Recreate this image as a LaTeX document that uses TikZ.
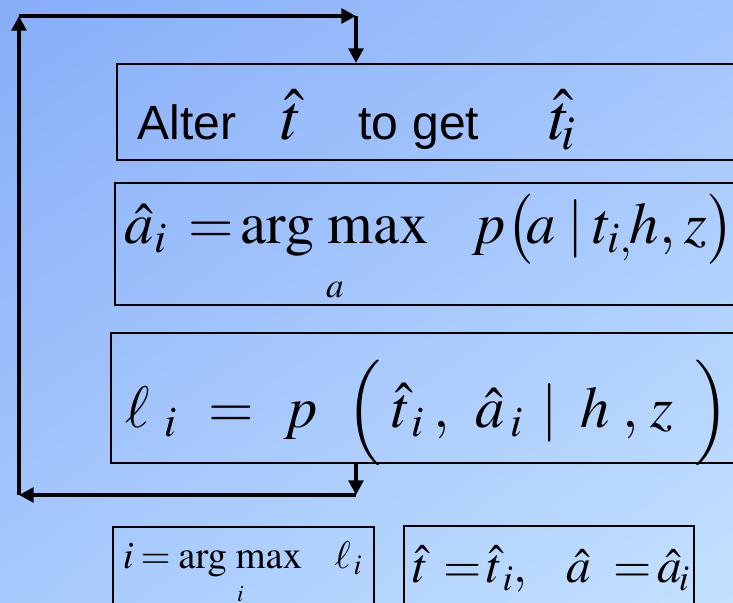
\documentclass[tikz,border=0pt]{standalone}
\usepackage{amsmath}
\usepackage{mathptmx}
\usepackage[no-math]{fontspec}
\newfontfamily\slidefont{Liberation Sans}
\usepackage{xcolor}
\usepackage{tikz}
\usetikzlibrary{arrows.meta, calc, shadings}
\definecolor{SkyTL}{RGB}{136,173,248}
\definecolor{SkyTR}{RGB}{162,196,253}
\definecolor{SkyBL}{RGB}{166,201,253}
\definecolor{SkyBR}{RGB}{196,225,255}
\newcommand{\argmx}{\mathop{\mathrm{arg\;max}}\limits}

\begin{document}
\begin{tikzpicture}[x=0.3mm, y=-0.3mm,
    panel/.style={draw=black, line width=1.3pt, anchor=north west,
                  align=left, inner ysep=0pt},
    flow/.style={line width=4pt, -{Triangle[length=12.5pt, width=12.5pt]}}]
        \useasboundingbox (0,0) rectangle (733,603);
        \clip (0,0) rectangle (733,603);
        \shade[upper left=SkyTL, upper right=SkyTR,
               lower left=SkyBL, lower right=SkyBR]
          (0,0) rectangle (733,603);

        % Alter step
        \node[panel, inner xsep=6.3mm, text width=180.6mm, minimum height=28.8mm,
              text height=16.8mm, text depth=0pt]
          (alter) at (116,63)
          {\mbox{\slidefont\fontsize{41}{48}\selectfont
           Alter\hspace{38pt}{\fontsize{56}{64}\selectfont$\hat{t}$}%
           \hspace{48pt}to\hspace{12pt}get\hspace{60pt}%
           {\fontsize{56}{64}\selectfont$\hat{t}_{\hspace{-4pt}i}$}}};

        % Best a for the altered t
        \node[panel, inner xsep=3mm, text width=187.8mm, minimum height=36.6mm,
              text height=0pt, text depth=0pt]
          (bestA) at (114,182)
          {\mbox{\fontsize{50}{48}\selectfont
           $\hat{a}_{i}\hspace{19pt}{=}\hspace{0pt}%
            \argmx_{\rule{0pt}{27pt}\scriptscriptstyle a}\hspace{32pt}%
            p\bigl(\hspace{-6pt}a\hspace{10pt}{|}\hspace{8pt}t_{i,}\hspace{-2pt}h{,}%
            \hspace{8pt}z\bigr)$}};

        % Score
        \node[panel, inner xsep=4.5mm, text width=186mm, minimum height=39mm,
              text height=18mm, text depth=0pt]
          (score) at (110,332)
          {\mbox{\fontsize{50}{50}\selectfont
           $\ell_{\hspace{12pt}i}\hspace{27pt}{=}\hspace{26pt}p\hspace{24pt}%
            \Bigl(\hspace{9pt}\hat{t}_{\hspace{4pt}i}\hspace{8pt}{,}\hspace{22pt}%
            \hat{a}_{\hspace{5pt}i}\hspace{16pt}{|}\hspace{19pt}h\hspace{11pt}{,}%
            \hspace{10pt}z\hspace{18pt}\Bigr)$}};

        % Pick the best i
        \node[panel, inner xsep=3mm, text width=72.3mm, minimum height=30mm,
              text height=0pt, text depth=4.8mm]
          (pickI) at (112,526)
          {\mbox{\fontsize{33}{40}\selectfont
           $i\hspace{6pt}{=}\hspace{3pt}%
            \argmx_{\rule{0pt}{15pt}\scriptscriptstyle i}\hspace{24pt}%
            \ell_{\hspace{2.5pt}i}$}};

        % Keep the best pair
        \node[panel, inner xsep=2.7mm, text width=81.6mm, minimum height=30mm,
              text height=4.2mm, text depth=0pt]
          (update) at (403,525)
          {\mbox{\fontsize{42}{50}\selectfont
           $\hat{t}\hspace{13pt}{=}\hspace{4pt}\hat{t}_{\hspace{3pt}i}{,}\hspace{34pt}%
            \hat{a}\hspace{19pt}{=}\hspace{5pt}\hat{a}_{\hspace{-3pt}i}$}};

        % Loop back
        \coordinate (botR) at (356,495);
        \coordinate (botL) at (19,495);
        \coordinate (topL) at (19,16);
        \coordinate (topR) at (356,16);
        \draw[flow] (score.south -| botR) -- (botR);
        \draw[flow] (botR) -- (botL);
        \draw[flow] (botL) -- (topL);
        \draw[flow] (topL) -- (topR);
        \draw[flow] (topR) -- (alter.north -| topR);
      \end{tikzpicture}
\end{document}
